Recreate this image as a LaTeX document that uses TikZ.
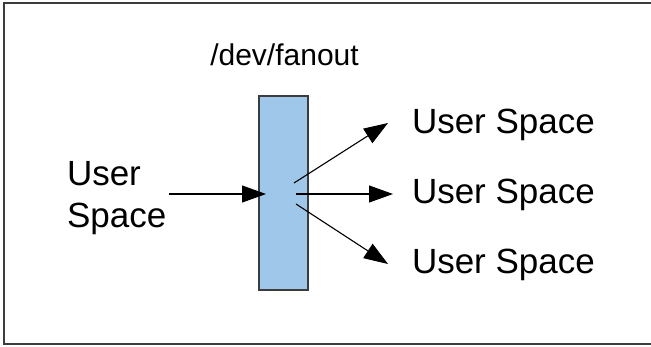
\documentclass[tikz,border=0pt]{standalone}
\usepackage{fontspec}
\setmainfont{Liberation Sans}
\usetikzlibrary{arrows.meta}
\definecolor{fanblue}{RGB}{159,199,233}
\definecolor{framegrey}{RGB}{60,60,60}
\begin{document}
\begin{tikzpicture}[x=1pt,y=-1pt,
  lbl/.style={inner sep=0pt,outer sep=0pt,font=\fontsize{35}{42}\selectfont,align=left},
  conn/.style={line width=1.1pt,-{Triangle[length=24pt,width=17pt]}}]
\useasboundingbox (0,0) rectangle (651,346);
\draw[framegrey,line width=1.5pt] (651,3) -- (4,3) -- (4,344) -- (651,344);
\node[draw=framegrey,line width=1.3pt,fill=fanblue,minimum width=49pt,minimum height=194pt,inner sep=0pt] (fan) at (283.5,193) {};
\node[inner sep=0pt,anchor=base,font=\fontsize{30}{36}\selectfont] (title) at (284.5,65) {/dev/fanout};
\node[lbl,anchor=base west] (src) at (67,227) {User\\Space};
\node[lbl,anchor=base west] (u1) at (412,133) {User Space};
\node[lbl,anchor=base west] (u2) at (412,203) {User Space};
\node[lbl,anchor=base west] (u3) at (412,273) {User Space};
\coordinate (inS) at (169,194);
\coordinate (inE) at (266,194);
\coordinate (o1s) at (294,183);
\coordinate (o2s) at (296,194);
\coordinate (o3s) at (296,204);
\coordinate (o1e) at (388,123);
\coordinate (o2e) at (393,194);
\coordinate (o3e) at (388,264);
\draw[conn] (inS) -- (inE);
\draw[conn] (o1s) -- (o1e);
\draw[conn] (o2s) -- (o2e);
\draw[conn] (o3s) -- (o3e);
\end{tikzpicture}
\end{document}
